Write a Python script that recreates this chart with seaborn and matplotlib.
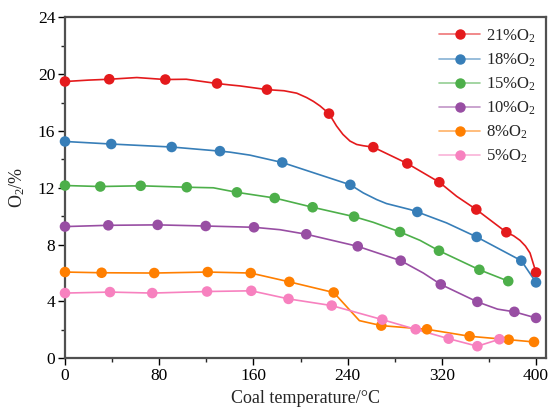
import numpy as np
import pandas as pd
import matplotlib
matplotlib.use("Agg")
import matplotlib.pyplot as plt
from matplotlib.lines import Line2D
from matplotlib.ticker import MultipleLocator
import seaborn as sns

# Oxygen concentration at measured coal temperatures (marked points)
t21 = [0, 37.6, 85.2, 129.1, 171.5, 224.2, 261.8, 290.7, 317.9, 349.3, 374.8, 400]
o21 = [19.48, 19.64, 19.62, 19.34, 18.91, 17.22, 14.86, 13.71, 12.39, 10.47, 8.87, 6.04]
t18 = [0, 39.3, 90.6, 131.6, 184.5, 242.3, 299.2, 349.6, 387.5, 400]
o18 = [15.26, 15.08, 14.87, 14.58, 13.78, 12.21, 10.30, 8.54, 6.87, 5.34]
t15 = [0, 30.0, 64.3, 103.4, 146.0, 178.1, 210.3, 245.5, 284.5, 317.6, 351.9, 376.4]
o15 = [12.16, 12.09, 12.14, 12.04, 11.68, 11.28, 10.63, 9.97, 8.89, 7.57, 6.23, 5.43]
t10 = [0, 36.8, 78.7, 119.5, 160.5, 204.9, 248.6, 285.1, 319.1, 350.2, 381.6, 400]
o10 = [9.27, 9.36, 9.39, 9.31, 9.22, 8.73, 7.88, 6.87, 5.20, 3.97, 3.27, 2.84]
t8 = [0, 31.1, 75.8, 121.2, 157.7, 190.5, 228.2, 268.6, 307.4, 343.6, 376.8, 398.3]
o8 = [6.07, 6.02, 6.00, 6.07, 6.00, 5.38, 4.63, 2.30, 2.04, 1.55, 1.31, 1.15]
t5 = [0, 38.2, 74.1, 120.6, 158.2, 189.8, 226.5, 269.5, 297.8, 325.8, 350.2, 368.9]
o5 = [4.59, 4.66, 4.59, 4.70, 4.75, 4.18, 3.71, 2.72, 2.04, 1.38, 0.85, 1.34]

# Additional recorded readings between the marked points (continuous trace)
t21_trace = [20, 61, 103, 140, 148.6, 186, 196.8, 205.2, 211, 216.6, 230.6, 236, 242, 247.7, 253.3,
             332.6, 381, 386.4, 391, 394.9]
o21_trace = [19.58, 19.76, 19.64, 19.24, 19.17, 18.83, 18.66, 18.35, 18.08, 17.76, 16.35, 15.76, 15.29,
             15.05, 14.96, 11.40, 8.62, 8.30, 7.90, 7.41]
t18_trace = [140, 157, 253.3, 264.7, 273, 293, 324]
o18_trace = [14.51, 14.30, 11.64, 11.17, 10.89, 10.47, 9.53]
t15_trace = [126, 261.8, 301.5]
o15_trace = [12.00, 9.57, 8.30]
t10_trace = [182.6, 304.3, 367.3]
o10_trace = [9.05, 6.00, 3.46]
t8_trace = [250]
o8_trace = [2.65]
t5_trace = []
o5_trace = []

labels = ["21%O$_2$", "18%O$_2$", "15%O$_2$", "10%O$_2$", "8%O$_2$", "5%O$_2$"]
marks = [(t21, o21), (t18, o18), (t15, o15), (t10, o10), (t8, o8), (t5, o5)]
traces = [(t21_trace, o21_trace), (t18_trace, o18_trace), (t15_trace, o15_trace),
          (t10_trace, o10_trace), (t8_trace, o8_trace), (t5_trace, o5_trace)]

mark_rows, line_rows = [], []
for lab, (tm, om), (tt, ot) in zip(labels, marks, traces):
    for t, o in zip(tm, om):
        mark_rows.append((lab, t, o))
    pts = sorted(list(zip(tm, om)) + list(zip(tt, ot)))
    for t, o in pts:
        line_rows.append((lab, t, o))
marks_df = pd.DataFrame(mark_rows, columns=["series", "T", "O2"])
lines_df = pd.DataFrame(line_rows, columns=["series", "T", "O2"])

sns.set_style("ticks")
plt.rcParams["font.family"] = ["Liberation Serif", "DejaVu Serif"]
plt.rcParams["mathtext.fontset"] = "custom"
plt.rcParams["mathtext.rm"] = "Liberation Serif"
plt.rcParams["mathtext.it"] = "Liberation Serif:italic"

set1 = sns.color_palette("Set1", 8)
palette = dict(zip(labels, set1[:5] + [set1[7]]))

fig = plt.figure(figsize=(5.48, 4.09), dpi=100)
ax = fig.add_axes([0.1186, 0.124, 0.8778, 0.8337])

sns.lineplot(data=lines_df, x="T", y="O2", hue="series", palette=palette,
             estimator=None, sort=False, legend=False, linewidth=1.2, ax=ax)
sns.scatterplot(data=marks_df, x="T", y="O2", hue="series", palette=palette,
                s=58, edgecolor="none", legend=False, clip_on=False, zorder=3, ax=ax)

ax.set_xlim(0, 408.5)
ax.set_ylim(0, 24)
ax.xaxis.set_major_locator(MultipleLocator(80))
ax.xaxis.set_minor_locator(MultipleLocator(40))
ax.yaxis.set_major_locator(MultipleLocator(4))
ax.yaxis.set_minor_locator(MultipleLocator(2))
ax.tick_params(which="major", direction="out", length=5, width=1, labelsize=12.5, colors="black", pad=2)
ax.tick_params(which="minor", direction="out", length=3, width=1)
for s in ax.spines.values():
    s.set_visible(True)
    s.set_linewidth(1.6)
    s.set_color("#505050")

ax.set_xlabel("Coal temperature/\u00b0C", fontsize=13, labelpad=4)
ax.set_ylabel("O$_2$/%", fontsize=13, labelpad=8)

handles = []
for lab in labels:
    c = palette[lab]
    handles.append(Line2D([0], [0], color=(*c, 0.6), linewidth=1.2, marker="o",
                          markersize=6.5, markerfacecolor=c, markeredgecolor=c))
ax.legend(handles, labels, loc="upper right", bbox_to_anchor=(1.0, 1.0), frameon=False,
          fontsize=12, handlelength=2.5, handletextpad=0.35, labelspacing=0.4,
          borderaxespad=0.2)

fig.savefig("out.png", dpi=100)
